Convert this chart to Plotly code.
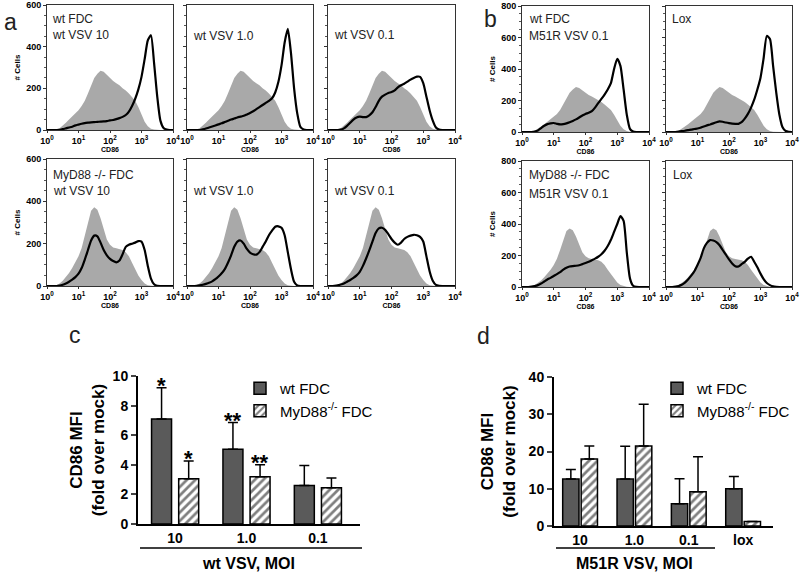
import plotly.graph_objects as go

# ---------------- DATA ----------------
CD86_LOG = [0.0, 0.1, 0.2, 0.3, 0.4, 0.5, 0.6, 0.7, 0.8, 0.9,
            1.0, 1.1, 1.2, 1.3, 1.4, 1.5, 1.6, 1.7, 1.8, 1.9,
            2.0, 2.1, 2.2, 2.3, 2.4, 2.5, 2.6, 2.7, 2.8, 2.9,
            3.0, 3.1, 3.2, 3.3, 3.4, 3.5, 3.6, 3.7, 3.8, 3.9, 4.0]

GRAY_WT = [0, 0, 0, 2, 8, 20, 35, 50, 65, 80,
           95, 115, 140, 175, 215, 250, 270, 285, 280, 265,
           245, 235, 225, 215, 200, 190, 175, 160, 140, 110,
           75, 40, 18, 6, 2, 0, 0, 0, 0, 0, 0]
GRAY_KO = [0, 0, 1, 4, 12, 25, 42, 62, 85, 110,
           140, 180, 235, 300, 355, 372, 360, 320, 265, 220,
           195, 182, 178, 175, 170, 160, 140, 110, 80, 50,
           28, 12, 4, 1, 0, 0, 0, 0, 0, 0, 0]

WT_VSV10 = [0, 0, 0, 0, 1, 4, 8, 12, 16, 22,
            26, 30, 33, 35, 37, 38, 39, 40, 41, 43,
            46, 48, 52, 57, 63, 72, 88, 115, 150, 195,
            255, 340, 430, 455, 320, 160, 45, 10, 2, 0, 0]
WT_VSV1 = [0, 0, 0, 0, 0, 3, 7, 12, 17, 22,
           27, 32, 38, 44, 50, 55, 60, 64, 68, 75,
           82, 90, 100, 110, 120, 130, 140, 152, 180, 230,
           310, 420, 485, 370, 200, 80, 15, 3, 0, 0, 0]
WT_VSV01 = [0, 0, 0, 0, 2, 8, 20, 35, 50, 60,
            64, 62, 62, 70, 85, 110, 140, 160, 170, 178,
            182, 190, 205, 215, 222, 232, 242, 250, 256, 255,
            225, 160, 95, 45, 12, 2, 0, 0, 0, 0, 0]
KO_VSV10 = [0, 0, 0, 0, 2, 6, 12, 20, 30, 42,
            58, 85, 125, 170, 215, 238, 235, 205, 170, 145,
            128, 118, 112, 120, 150, 185, 195, 200, 205, 212,
            210, 170, 95, 35, 8, 1, 0, 0, 0, 0, 0]
KO_VSV1 = [0, 0, 0, 1, 3, 6, 10, 15, 22, 32,
           45, 60, 80, 110, 145, 185, 210, 215, 200, 175,
           158, 150, 148, 160, 185, 210, 240, 262, 280, 282,
           275, 240, 160, 80, 20, 3, 0, 0, 0, 0, 0]
KO_VSV01 = [0, 0, 1, 3, 7, 12, 20, 28, 38, 50,
            67, 95, 130, 168, 210, 250, 272, 275, 265, 245,
            222, 205, 195, 205, 222, 232, 238, 242, 240, 232,
            210, 140, 70, 25, 5, 1, 0, 0, 0, 0, 0]
WT_M51R = [0, 0, 0, 0, 3, 10, 25, 40, 50, 55,
           57, 52, 48, 50, 55, 62, 70, 80, 92, 105,
           115, 122, 132, 155, 183, 210, 238, 270, 310, 400,
           465, 420, 270, 110, 20, 3, 0, 0, 0, 0, 0]
WT_LOX = [0, 0, 0, 0, 2, 5, 8, 12, 15, 19,
          22, 28, 35, 42, 48, 55, 62, 68, 65, 60,
          56, 53, 52, 52, 62, 85, 115, 155, 205, 270,
          345, 470, 610, 590, 420, 250, 110, 30, 6, 1, 0]
KO_M51R = [0, 0, 0, 2, 6, 12, 22, 35, 48, 58,
           70, 82, 95, 110, 122, 130, 133, 135, 138, 145,
           152, 160, 170, 180, 192, 208, 230, 260, 300, 350,
           400, 450, 420, 220, 55, 8, 1, 0, 0, 0, 0]
KO_LOX = [0, 0, 0, 2, 6, 14, 28, 48, 72, 100,
          140, 185, 245, 280, 298, 295, 285, 265, 235, 205,
          175, 150, 132, 130, 145, 160, 180, 192, 160, 125,
          85, 50, 25, 12, 4, 1, 0, 0, 0, 0, 0]

X_TICK_VALS = [1, 10, 100, 1000, 10000]
X_TICK_TEXT = ["10<sup>0</sup>", "10<sup>1</sup>", "10<sup>2</sup>",
               "10<sup>3</sup>", "10<sup>4</sup>"]

MOI_C = ["10", "1.0", "0.1"]
C_WT = [7.1, 5.05, 2.6]
C_WT_ERR = [2.1, 1.8, 1.35]
C_KO = [3.05, 3.2, 2.45]
C_KO_ERR = [1.2, 0.8, 0.65]
C_WT_STARS = ["*", "**", ""]
C_KO_STARS = ["*", "**", ""]

MOI_D = ["10", "1.0", "0.1", "lox"]
D_WT = [12.6, 12.6, 6.0, 10.0]
D_WT_ERR = [2.6, 8.8, 6.7, 3.3]
D_KO = [18.0, 21.5, 9.2, 1.2]
D_KO_ERR = [3.5, 11.2, 9.4, 0.0]

# ---------------- LAYOUT HELPERS ----------------
W, H = 800, 572
FONT = "Arial, Liberation Sans, sans-serif"


def fx(px):
    return px / W


def fy(py):
    return 1 - py / H


fig = go.Figure()
layout = {}
annotations = []
shapes = []

cd86_x = [10 ** v for v in CD86_LOG]

# (gray, black, x0, x1, ytop, ybottom, ymax, show y labels, texts[(text, px, pytop)])
panels = [
    (GRAY_WT, WT_VSV10, 47, 173, 5, 130, 600, True, [("wt FDC", 50, 10), ("wt VSV 10", 50, 26)]),
    (GRAY_WT, WT_VSV1, 187, 313, 5, 130, 600, False, [("wt VSV 1.0", 191, 27)]),
    (GRAY_WT, WT_VSV01, 328, 455, 5, 130, 600, False, [("wt VSV 0.1", 332, 26)]),
    (GRAY_KO, KO_VSV10, 47, 173, 159, 286, 600, True, [("MyD88 -/- FDC", 51, 166), ("wt VSV 10", 51, 182)]),
    (GRAY_KO, KO_VSV1, 187, 313, 159, 286, 600, False, [("wt VSV 1.0", 191, 182)]),
    (GRAY_KO, KO_VSV01, 328, 455, 159, 286, 600, False, [("wt VSV 0.1", 332, 182)]),
    (GRAY_WT, WT_M51R, 522, 649, 6, 132, 800, True, [("wt FDC", 527, 10), ("M51R VSV 0.1", 527, 27)]),
    (GRAY_WT, WT_LOX, 666, 792, 6, 132, 800, False, [("Lox", 670, 10)]),
    (GRAY_KO, KO_M51R, 522, 649, 161, 287, 800, True, [("MyD88 -/- FDC", 527, 166), ("M51R VSV 0.1", 527, 185)]),
    (GRAY_KO, KO_LOX, 666, 792, 161, 287, 800, False, [("Lox", 671, 166)]),
]

for i, (gray, black, x0, x1, yt, yb, ymax, showy, texts) in enumerate(panels, start=1):
    xa, ya = ("x" if i == 1 else f"x{i}"), ("y" if i == 1 else f"y{i}")
    fig.add_trace(go.Scatter(x=cd86_x, y=gray, xaxis=xa, yaxis=ya, mode="lines",
                             line=dict(width=0, color="#a9a9a9"), fill="tozeroy",
                             fillcolor="#a9a9a9", showlegend=False, hoverinfo="skip"))
    fig.add_trace(go.Scatter(x=cd86_x, y=black, xaxis=xa, yaxis=ya, mode="lines",
                             line=dict(width=2.2, color="black", shape="spline", smoothing=0.6),
                             showlegend=False))
    layout[f"xaxis{i}"] = dict(
        domain=[fx(x0), fx(x1)], anchor=ya, type="log", range=[0, 4],
        showline=True, mirror=True, linecolor="#333", linewidth=1,
        ticks="outside", ticklen=2, tickcolor="#333",
        tickvals=X_TICK_VALS, ticktext=X_TICK_TEXT,
        tickfont=dict(family=FONT, size=9, color="black", weight="bold"),
        title=dict(text="CD86", font=dict(family=FONT, size=7, color="black", weight="bold"), standoff=0),
        showgrid=False, zeroline=False, fixedrange=True, automargin=False,
    )
    yax = dict(
        domain=[fy(yb), fy(yt)], anchor=xa, range=[0, ymax],
        showline=True, mirror=True, linecolor="#333", linewidth=1,
        ticks="outside", ticklen=3, tickcolor="#333", dtick=200,
        minor=dict(ticks="outside", ticklen=2, dtick=50, tickcolor="#555"),
        showticklabels=showy,
        tickfont=dict(family=FONT, size=9, color="black", weight="bold"),
        showgrid=False, zeroline=False, fixedrange=True, automargin=False,
    )
    if showy:
        yax["title"] = dict(text="# Cells", font=dict(family=FONT, size=8, color="black", weight="bold"),
                            standoff=4)
    layout[f"yaxis{i}"] = yax
    for (t, px, py) in texts:
        annotations.append(dict(text=t, x=fx(px), y=fy(py), xref="paper", yref="paper",
                                xanchor="left", yanchor="top", showarrow=False,
                                font=dict(family=FONT, size=12, color="#222")))

# ---------------- BAR CHARTS ----------------
BAR_W_C = 0.28
BAR_W_D = 0.30
wt_style = dict(color="#5a5a5a", line=dict(color="black", width=1.5))
ko_style = dict(color="white", line=dict(color="black", width=1.5),
                pattern=dict(shape="/", fgcolor="black", bgcolor="white", size=6, solidity=0.45))

fig.add_trace(go.Bar(x=MOI_C, y=C_WT, name="wt FDC", xaxis="x11", yaxis="y11",
                     width=BAR_W_C, offset=-0.33, marker=wt_style, legend="legend",
                     error_y=dict(type="data", array=C_WT_ERR, arrayminus=[0] * len(C_WT),
                                  symmetric=False, color="black", thickness=1.5, width=5)))
fig.add_trace(go.Bar(x=MOI_C, y=C_KO, name="MyD88<sup>-/-</sup> FDC", xaxis="x11", yaxis="y11",
                     width=BAR_W_C, offset=0.05, marker=ko_style, legend="legend",
                     error_y=dict(type="data", array=C_KO_ERR, arrayminus=[0] * len(C_KO),
                                  symmetric=False, color="black", thickness=1.5, width=5)))
fig.add_trace(go.Bar(x=MOI_D, y=D_WT, name="wt FDC", xaxis="x12", yaxis="y12",
                     width=BAR_W_D, offset=-0.32, marker=wt_style, legend="legend2",
                     error_y=dict(type="data", array=D_WT_ERR, arrayminus=[0] * len(D_WT),
                                  symmetric=False, color="black", thickness=1.5, width=5)))
fig.add_trace(go.Bar(x=MOI_D, y=D_KO, name="MyD88<sup>-/-</sup> FDC", xaxis="x12", yaxis="y12",
                     width=BAR_W_D, offset=0.02, marker=ko_style, legend="legend2",
                     error_y=dict(type="data", array=D_KO_ERR, arrayminus=[0] * len(D_KO),
                                  symmetric=False, color="black", thickness=1.5, width=5)))

bar_axis_font = dict(family=FONT, size=14, color="black", weight="bold")
ytitle = "CD86 MFI<br>(fold over mock)"
layout["xaxis11"] = dict(domain=[fx(138), fx(360)], anchor="y11", type="category",
                         range=[-0.52, 2.59], showline=True, linecolor="black", linewidth=2,
                         ticks="", tickfont=bar_axis_font, showgrid=False, zeroline=False,
                         fixedrange=True, automargin=False)
layout["yaxis11"] = dict(domain=[fy(524), fy(376)], anchor="x11", range=[0, 10], dtick=2,
                         showline=True, linecolor="black", linewidth=2, ticks="outside",
                         ticklen=5, tickwidth=2, tickfont=bar_axis_font, showgrid=False,
                         zeroline=False, fixedrange=True, automargin=False,
                         title=dict(text=ytitle, standoff=4,
                                    font=dict(family=FONT, size=17, color="black", weight="bold")))
layout["xaxis12"] = dict(domain=[fx(554), fx(773)], anchor="y12", type="category",
                         range=[-0.48, 3.55], showline=True, linecolor="black", linewidth=2,
                         ticks="", tickfont=bar_axis_font, showgrid=False, zeroline=False,
                         fixedrange=True, automargin=False)
layout["yaxis12"] = dict(domain=[fy(526), fy(377)], anchor="x12", range=[0, 40], dtick=10,
                         showline=True, linecolor="black", linewidth=2, ticks="outside",
                         ticklen=5, tickwidth=2, tickfont=bar_axis_font, showgrid=False,
                         zeroline=False, fixedrange=True, automargin=False,
                         title=dict(text=ytitle, standoff=9,
                                    font=dict(family=FONT, size=17, color="black", weight="bold")))

# significance stars
for i, (s, v, e) in enumerate(zip(C_WT_STARS, C_WT, C_WT_ERR)):
    if s:
        annotations.append(dict(text=s, x=i - 0.33 + BAR_W_C / 2, y=v + e, xref="x11", yref="y11",
                                xanchor="center", yanchor="bottom", yshift=-12, showarrow=False,
                                font=dict(family=FONT, size=22, color="black", weight="bold")))
for i, (s, v, e) in enumerate(zip(C_KO_STARS, C_KO, C_KO_ERR)):
    if s:
        annotations.append(dict(text=s, x=i + 0.05 + BAR_W_C / 2, y=v + e, xref="x11", yref="y11",
                                xanchor="center", yanchor="bottom", yshift=-12, showarrow=False,
                                font=dict(family=FONT, size=22, color="black", weight="bold")))

# group labels and underlines
annotations.append(dict(text="<b>wt VSV, MOI</b>", x=fx(248), y=fy(563), xref="paper", yref="paper",
                        xanchor="center", yanchor="middle", showarrow=False,
                        font=dict(family=FONT, size=16, color="black")))
annotations.append(dict(text="<b>M51R VSV, MOI</b>", x=fx(634), y=fy(563), xref="paper", yref="paper",
                        xanchor="center", yanchor="middle", showarrow=False,
                        font=dict(family=FONT, size=16, color="black")))
shapes.append(dict(type="line", xref="paper", yref="paper", x0=fx(140), x1=fx(362),
                   y0=fy(548), y1=fy(548), line=dict(color="black", width=1.5)))
shapes.append(dict(type="line", xref="paper", yref="paper", x0=fx(556), x1=fx(715),
                   y0=fy(548), y1=fy(548), line=dict(color="black", width=1.5)))

# panel letters
for t, px, py in [("a", 10, 22), ("b", 490, 19), ("c", 75, 335), ("d", 483, 336)]:
    annotations.append(dict(text=t, x=fx(px), y=fy(py), xref="paper", yref="paper",
                            xanchor="center", yanchor="middle", showarrow=False,
                            font=dict(family=FONT, size=23, color="#222")))

legend_common = dict(xanchor="left", yanchor="top", bgcolor="rgba(0,0,0,0)",
                     font=dict(family=FONT, size=15, color="black"), tracegroupgap=0,
                     itemclick=False, itemdoubleclick=False)
layout["legend"] = dict(x=fx(240), y=fy(372), **legend_common)
layout["legend2"] = dict(x=fx(657), y=fy(372), **legend_common)

fig.update_layout(**layout)
fig.update_layout(
    width=W, height=H, margin=dict(l=0, r=0, t=0, b=0, autoexpand=False),
    paper_bgcolor="white", plot_bgcolor="white",
    annotations=annotations, shapes=shapes, showlegend=True,
    font=dict(family=FONT, color="black"),
)

fig.write_html("out.html", config={"displayModeBar": False},
               post_script="document.body.style.margin='0px';")
